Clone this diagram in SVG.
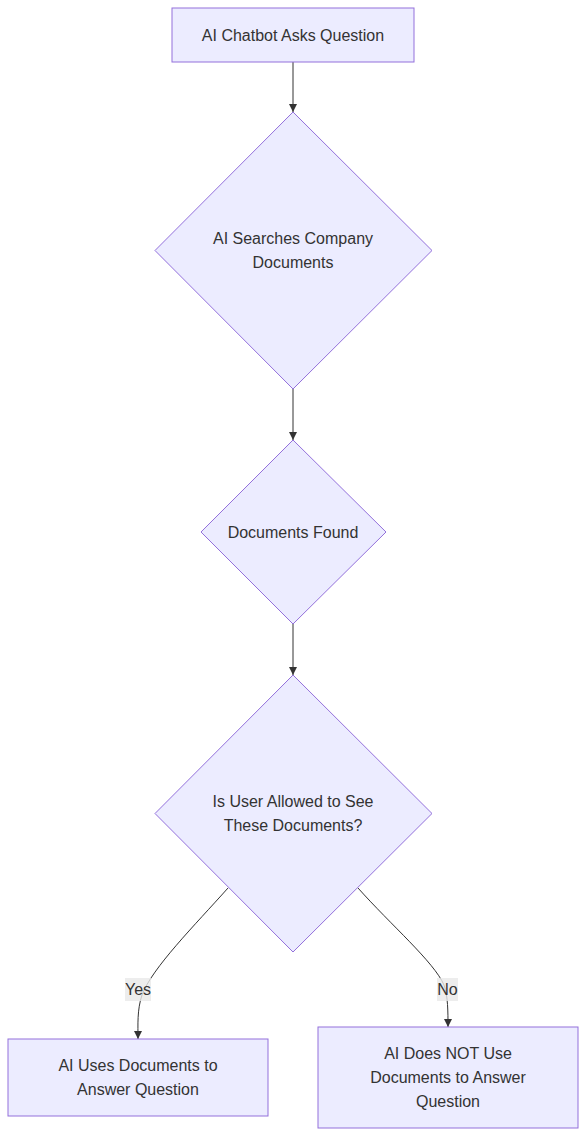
<svg xmlns="http://www.w3.org/2000/svg" width="586" height="1137" viewBox="0 0 586 1137">
<style>
.node rect, .node polygon { fill: #ECECFF; stroke: #9370DB; stroke-width: 1px; }
.node text { font-family: "Liberation Sans", Arial, sans-serif; font-size: 16px; fill: #333333; text-anchor: middle; dominant-baseline: central; }
.edge { fill: none; stroke: #333333; stroke-width: 1px; }
.lbl rect { fill: #E8E8E8; opacity: 0.8; }
.lbl text { font-family: "Liberation Sans", Arial, sans-serif; font-size: 16px; fill: #333333; text-anchor: middle; dominant-baseline: central; }
</style>
<defs>
<marker id="arrow" viewBox="0 0 10 10" refX="10" refY="5" markerWidth="8" markerHeight="8" markerUnits="userSpaceOnUse" orient="auto">
<path d="M0,0 L10,5 L0,10 z" fill="#333333"/>
</marker>
</defs>
<rect width="586" height="1137" fill="#ffffff"/>
<g id="connectors">
<path class="edge" d="M293,62 L293,112" marker-end="url(#arrow)"/>
<path class="edge" d="M293,389 L293,440" marker-end="url(#arrow)"/>
<path class="edge" d="M293,624 L293,675" marker-end="url(#arrow)"/>
<path class="edge" d="M228,888 C195,925 152,968 142,995 C137,1010 138,1025 138,1039" marker-end="url(#arrow)"/>
<path class="edge" d="M358,888 C391,925 434,962 444,985 C448,996 448,1012 448,1027" marker-end="url(#arrow)"/>
</g>
<g id="edge-labels">
<g class="lbl"><rect x="125" y="978" width="26" height="23"/><text x="138" y="989.5">Yes</text></g>
<g class="lbl"><rect x="437" y="978" width="21" height="23"/><text x="447.5" y="989.5">No</text></g>
</g>
<g id="A" class="node">
<rect x="172" y="8" width="242" height="54"/>
<text x="293" y="35">AI Chatbot Asks Question</text>
</g>
<g id="B" class="node">
<polygon points="293,112 432,250.5 293,389 155,250.5"/>
<text x="293" y="238.5">AI Searches Company</text>
<text x="293" y="262.5">Documents</text>
</g>
<g id="C" class="node">
<polygon points="293,440 386,532 293,624 201,532"/>
<text x="293" y="532">Documents Found</text>
</g>
<g id="D" class="node">
<polygon points="293,675 432,813.5 293,952 155,813.5"/>
<text x="293" y="801.5">Is User Allowed to See</text>
<text x="293" y="825.5">These Documents?</text>
</g>
<g id="E" class="node">
<rect x="8" y="1039" width="260" height="77"/>
<text x="138" y="1065.5">AI Uses Documents to</text>
<text x="138" y="1089.5">Answer Question</text>
</g>
<g id="F" class="node">
<rect x="318" y="1027" width="260" height="101"/>
<text x="448" y="1053.5">AI Does NOT Use</text>
<text x="448" y="1077.5">Documents to Answer</text>
<text x="448" y="1101.5">Question</text>
</g>
</svg>
